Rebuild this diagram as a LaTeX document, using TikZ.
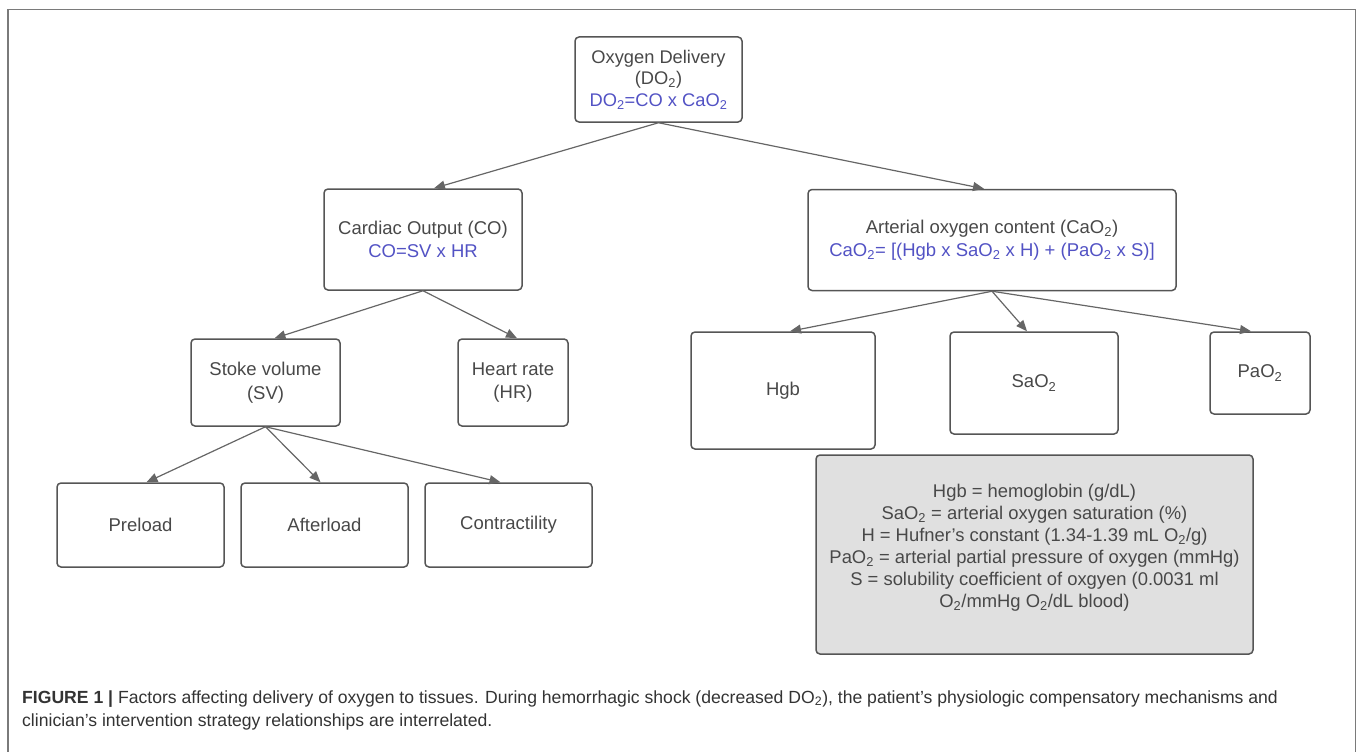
\documentclass[tikz,border=0pt]{standalone}
\usepackage{fontspec}
\setmainfont{Liberation Sans}
\usetikzlibrary{arrows.meta}
\definecolor{txt}{HTML}{484848}
\definecolor{frm}{HTML}{555555}
\definecolor{blu}{HTML}{5252C4}
\definecolor{arrc}{HTML}{666666}
\definecolor{fillg}{HTML}{E0E0E0}
\definecolor{outerc}{HTML}{7A7A7A}
\definecolor{capc}{HTML}{333333}
\newcommand{\sub}[1]{\textsubscript{#1}}
\begin{document}
\begin{tikzpicture}[x=1pt,y=-1pt,
  box/.style={draw=frm, line width=1.5pt, rounded corners=4pt, inner sep=0pt, align=center, text=txt, font=\fontsize{18.5}{23.5}\selectfont},
  arr/.style={draw=arrc, line width=1.2pt, -{Triangle[length=11pt,width=9pt]}},
  captxt/.style={anchor=base west, inner sep=0pt, text=capc, font=\fontsize{17.6}{21}\selectfont},
]
\useasboundingbox (0,0) rectangle (1357,752);
\draw[outerc, line width=1.5pt] (8,770) -- (8,9.5) -- (1355.5,9.5) -- (1355.5,770);

\node[box, minimum width=167pt, minimum height=85pt, font=\fontsize{18.3}{21.5}\selectfont] (do2) at (658.5,79.5)
  {Oxygen Delivery\\(DO\sub{2})\\\textcolor{blu}{DO\sub{2}=CO x CaO\sub{2}}};
\node[box, minimum width=198pt, minimum height=101pt] (co) at (423,239.5)
  {Cardiac Output (CO)\\\textcolor{blu}{CO=SV x HR}};
\node[box, minimum width=368pt, minimum height=101pt] (cao2) at (992,240)
  {Arterial oxygen content (CaO\sub{2})\\\textcolor{blu}{CaO\sub{2}= [(Hgb x SaO\sub{2} x H) + (PaO\sub{2} x S)]}};
\node[box, minimum width=149pt, minimum height=87pt] (sv) at (265.5,382.5)
  {Stoke volume\\(SV)};
\node[box, minimum width=110pt, minimum height=87pt] (hr) at (513,382.5)
  {Heart rate\\(HR)};
\node[box, minimum width=184pt, minimum height=117pt] (hgb) at (783,390.5) {Hgb};
\node[box, minimum width=168pt, minimum height=102pt] (sao2) at (1034,383) {SaO\sub{2}};
\node[box, minimum width=100pt, minimum height=82pt] (pao2) at (1260,373) {PaO\sub{2}};
\node[box, minimum width=167pt, minimum height=84pt] (pre) at (140.5,525) {Preload};
\node[box, minimum width=167pt, minimum height=84pt] (aft) at (324.5,525) {Afterload};
\node[box, minimum width=167pt, minimum height=84pt] (con) at (508.5,525) {Contractility};

\node[box, fill=fillg, minimum width=437pt, minimum height=199pt] (legend) at (1034.5,554.5) {};
\node[align=center, text=txt, inner sep=0pt, font=\fontsize{18.4}{22}\selectfont] (legtext) at (1034.5,548)
  {Hgb = hemoglobin (g/dL)\\
   SaO\sub{2} = arterial oxygen saturation (\%)\\
   H = Hufner's constant (1.34-1.39 mL O\sub{2}/g)\\
   PaO\sub{2} = arterial partial pressure of oxygen (mmHg)\\
   S = solubility coefficient of oxgyen (0.0031 ml\\
   O\sub{2}/mmHg O\sub{2}/dL blood)};

\draw[arr] (do2.south) -- ([xshift=11pt]co.north);
\draw[arr] (do2.south) -- ([xshift=-8pt]cao2.north);
\draw[arr] (co.south) -- ([xshift=9pt]sv.north);
\draw[arr] (co.south) -- ([xshift=4pt]hr.north);
\draw[arr] (cao2.south) -- ([xshift=7pt]hgb.north);
\draw[arr] (cao2.south) -- ([xshift=-7pt]sao2.north);
\draw[arr] (cao2.south) -- ([xshift=-9pt]pao2.north);
\draw[arr] (sv.south) -- ([xshift=6pt]pre.north);
\draw[arr] (sv.south) -- ([xshift=-4pt]aft.north);
\draw[arr] (sv.south) -- ([xshift=-8pt]con.north);

\node[captxt] (cap1) at (22,703)
  {\textbf{FIGURE 1 |} Factors affecting delivery of oxygen to tissues. During hemorrhagic shock (decreased DO\sub{2}), the patient's physiologic compensatory mechanisms and};
\node[captxt] (cap2) at (22,726)
  {clinician's intervention strategy relationships are interrelated.};
\end{tikzpicture}
\end{document}
